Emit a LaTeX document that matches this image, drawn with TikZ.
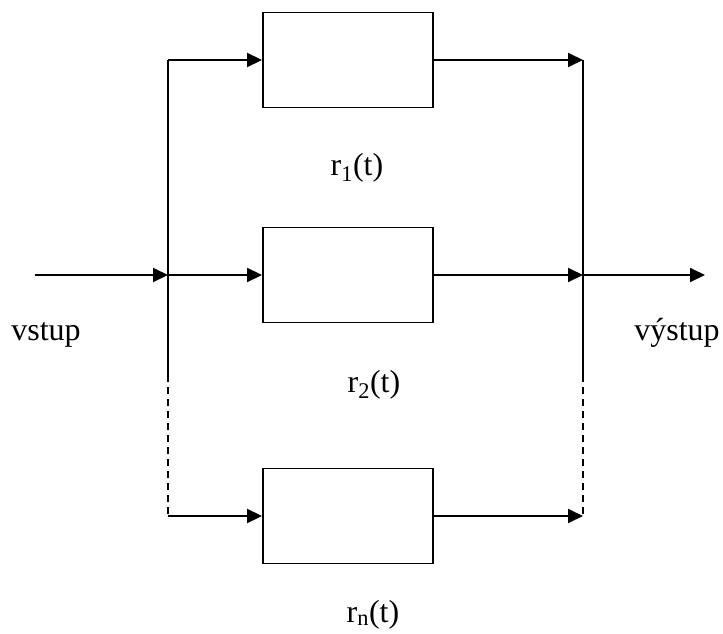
\documentclass[tikz,border=0pt]{standalone}
\usepackage{fontspec}
\setmainfont{Liberation Serif}
\usetikzlibrary{arrows.meta}
\begin{document}
\begin{tikzpicture}[x=1pt,y=-1pt,
  line width=1.9pt,
  blk/.style={draw, rectangle, minimum width=170pt, minimum height=95pt, inner sep=0pt},
  sig/.style={-{Triangle[length=15pt,width=14pt]}},
  lbl/.style={font=\fontsize{32}{36}\selectfont, inner sep=0pt, anchor=base},
  dsh/.style={dash pattern=on 7pt off 5pt}]
\useasboundingbox (0,0) rectangle (723,634);

% the three parallel blocks
\node[blk] (b1) at (348,60) {};
\node[blk] (b2) at (348,275) {};
\node[blk] (b3) at (348,516) {};

% branching points on the left and joining points on the right
\coordinate (in)  at (35,275);
\coordinate (out) at (705,275);
\coordinate (lt) at (168,60);
\coordinate (lm) at (168,275);
\coordinate (ld) at (168,375);
\coordinate (lb) at (168,516);
\coordinate (rt) at (583,60);
\coordinate (rm) at (583,275);
\coordinate (rd) at (583,375);
\coordinate (rb) at (583,516);

% distribution bus
\draw (lt) -- (ld);
\draw[dsh] (ld) -- (lb);
\draw[sig] (in) -- (lm);
\draw[sig] (lt) -- (b1.west);
\draw[sig] (lm) -- (b2.west);
\draw[sig] (lb) -- (b3.west);

% collecting bus
\draw (rt) -- (rd);
\draw[dsh] (rd) -- (rb);
\draw[sig] (b1.east) -- (rt);
\draw[sig] (b2.east) -- (rm);
\draw[sig] (b3.east) -- (rb);
\draw[sig] (rm) -- (out);

% labels
\node[lbl] (vin)  at (46,340) {vstup};
\node[lbl] (vout) at (677,340) {výstup};
\node[lbl] (r1) at (357,175) {r\textsubscript{1}(t)};
\node[lbl] (r2) at (374,392) {r\textsubscript{2}(t)};
\node[lbl] (rn) at (373,622) {r\textsubscript{n}(t)};
\end{tikzpicture}
\end{document}
